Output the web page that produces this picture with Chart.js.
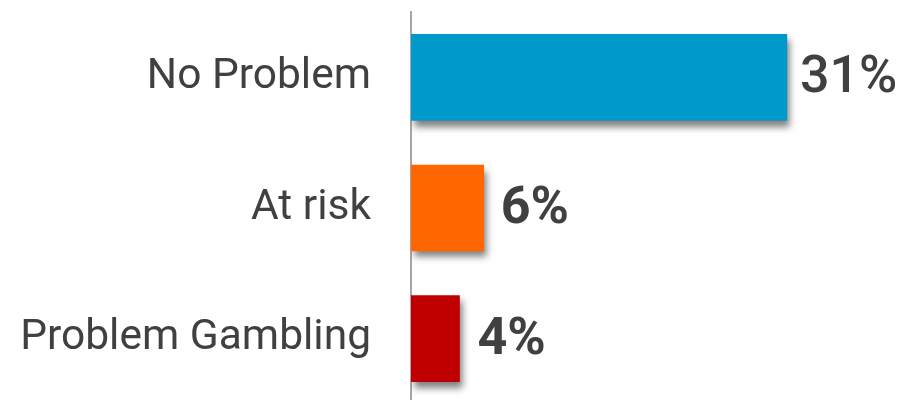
<!DOCTYPE html>
<html>
<head>
  <meta charset="utf-8">
  <title>Gambling risk</title>
  <script src="https://cdn.jsdelivr.net/npm/chart.js@4.4.1/dist/chart.umd.min.js"></script>
  <style>
    html, body { margin: 0; padding: 0; background: #fff; overflow: hidden; }
    #wrap { width: 904px; height: 404px; }
  </style>
</head>
<body>
<div id="wrap">
  <canvas id="myChart" width="904" height="404"></canvas>
</div>

<script>
  var categories = ['No Problem', 'At risk', 'Problem Gambling'];
  var values = [31, 6, 4];
  var valueLabels = ['31%', '6%', '4%'];
  var barColors = ['#0099cc', '#ff6600', '#c00000'];

  // soft drop shadow under the bars
  var shadowPlugin = {
    id: 'barShadow',
    beforeDatasetsDraw: function(chart) {
      var ctx = chart.ctx;
      ctx.save();
      ctx.shadowColor = 'rgba(0,0,0,0.5)';
      ctx.shadowBlur = 7;
      ctx.shadowOffsetX = 3;
      ctx.shadowOffsetY = 6;
    },
    afterDatasetsDraw: function(chart) {
      chart.ctx.restore();
    }
  };

  // value text at the end of each bar (the small ones are set heavier)
  var labelPlugin = {
    id: 'valueText',
    afterDraw: function(chart) {
      var ctx = chart.ctx;
      var meta = chart.getDatasetMeta(0);
      var weights = ['500', '700', '700'];
      var gaps = [13, 17, 18];
      ctx.save();
      ctx.fillStyle = '#404040';
      ctx.textAlign = 'left';
      ctx.textBaseline = 'middle';
      meta.data.forEach(function(bar, i) {
        ctx.font = weights[i] + ' 52px Roboto';
        ctx.fillText(valueLabels[i], bar.x + gaps[i], bar.y + 2);
      });
      ctx.restore();
    }
  };

  var ctx = document.getElementById('myChart').getContext('2d');
  var myChart = new Chart(ctx, {
    type: 'bar',
    data: {
      labels: categories,
      datasets: [{
        data: values,
        backgroundColor: barColors,
        borderWidth: 0,
        barThickness: 86
      }]
    },
    options: {
      indexAxis: 'y',
      responsive: false,
      animation: false,
      layout: { padding: { top: 12, right: 8, bottom: 0, left: 0 } },
      plugins: {
        legend: { display: false },
        tooltip: { enabled: false }
      },
      scales: {
        x: {
          display: false,
          min: 0,
          max: 40
        },
        y: {
          afterFit: function(scale) {
            scale.width = 411;
            scale.paddingTop = 0;
            scale.paddingBottom = 0;
          },
          grid: { display: false, drawTicks: false },
          border: { display: true, color: '#a6a6a6', width: 2 },
          ticks: {
            padding: 40,
            color: '#404040',
            font: { family: 'Roboto', size: 42.5 }
          }
        }
      }
    },
    plugins: [shadowPlugin, labelPlugin]
  });
</script>
</body>
</html>
